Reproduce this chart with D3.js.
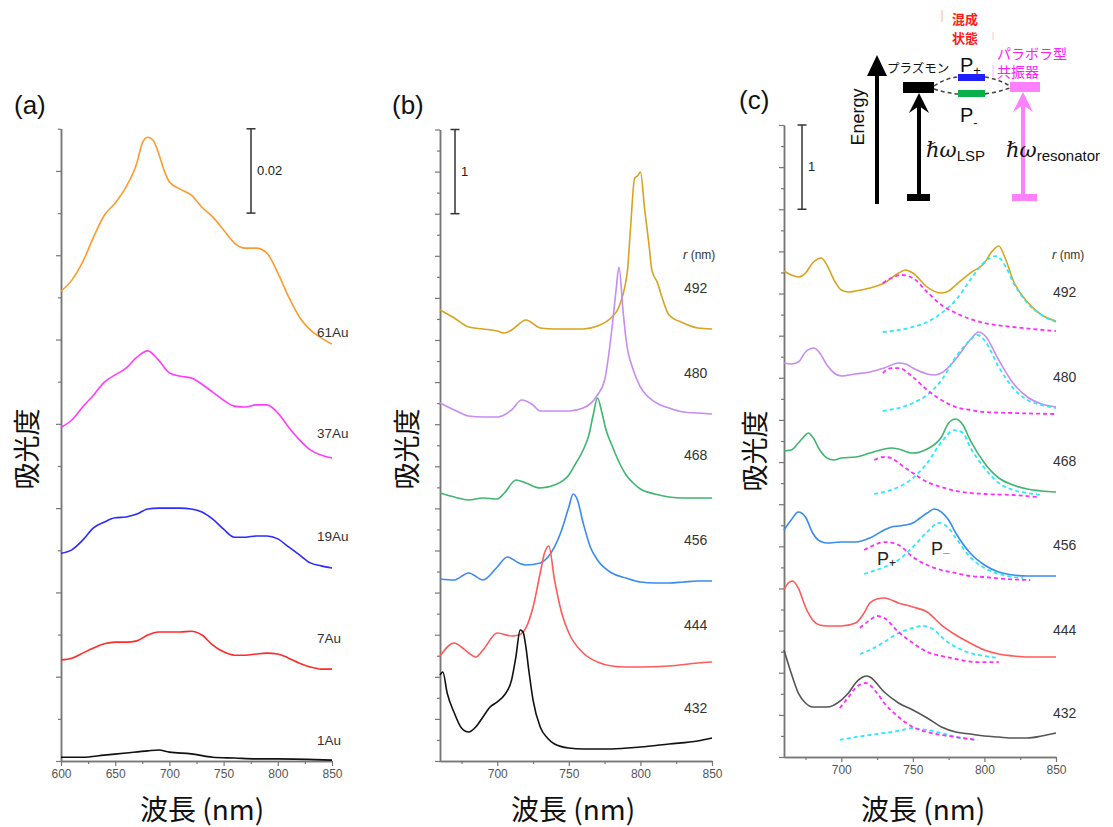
<!DOCTYPE html>
<html>
<head>
<meta charset="utf-8">
<script src="https://cdn.jsdelivr.net/npm/d3@7"></script>
<style>
  body { margin: 0; background: #fff; }
  svg { display: block; font-family: "Liberation Sans", Arial, sans-serif; }
  .cjk { font-family: "Noto Sans CJK JP", "Noto Sans", sans-serif; }
</style>
</head>
<body>
<script>
// ---- panel (a): absorbance spectra, offset-stacked (units: absorbance)
var a61Au = [[600,0.1115],[610,0.1141],[620,0.1184],[630,0.1243],[640,0.1295],[650,0.1324],[660,0.1362],[670,0.1419],[675,0.1466],[680,0.1480],[685,0.1473],[690,0.1442],[695,0.1402],[700,0.1374],[710,0.1357],[720,0.1343],[730,0.1314],[740,0.1291],[750,0.1260],[760,0.1229],[770,0.1217],[780,0.1217],[790,0.1205],[800,0.1158],[810,0.1101],[820,0.1053],[830,0.1023],[840,0.1004],[850,0.0989]];
var a37Au = [[600,0.0792],[610,0.0809],[620,0.0840],[630,0.0868],[640,0.0899],[650,0.0916],[660,0.0932],[670,0.0958],[680,0.0973],[690,0.0951],[700,0.0921],[710,0.0913],[720,0.0909],[730,0.0894],[740,0.0875],[750,0.0856],[760,0.0842],[770,0.0840],[780,0.0845],[790,0.0845],[800,0.0826],[810,0.0792],[820,0.0762],[830,0.0738],[840,0.0726],[850,0.0719]];
var a19Au = [[600,0.0493],[610,0.0501],[620,0.0524],[630,0.0553],[640,0.0567],[650,0.0577],[660,0.0579],[670,0.0586],[680,0.0598],[690,0.0600],[700,0.0600],[710,0.0600],[720,0.0598],[730,0.0591],[740,0.0574],[750,0.0550],[760,0.0531],[770,0.0531],[780,0.0534],[790,0.0534],[800,0.0527],[810,0.0508],[820,0.0489],[830,0.0470],[840,0.0463],[850,0.0458]];
var a7Au = [[600,0.0240],[610,0.0244],[620,0.0256],[630,0.0268],[640,0.0278],[650,0.0282],[660,0.0282],[670,0.0285],[680,0.0299],[690,0.0306],[700,0.0306],[710,0.0306],[720,0.0308],[730,0.0299],[740,0.0275],[750,0.0259],[760,0.0251],[770,0.0251],[780,0.0254],[790,0.0256],[800,0.0254],[810,0.0244],[820,0.0232],[830,0.0223],[840,0.0218],[850,0.0218]];
var a1Au = [[600,0.0009],[620,0.0009],[640,0.0014],[660,0.0019],[680,0.0024],[690,0.0026],[700,0.0021],[720,0.0017],[740,0.0009],[760,0.0007],[780,0.0005],[800,0.0005],[850,0.0002]];
var labelsA = ['61Au', '37Au', '19Au', '7Au', '1Au'];
var colorsA = ['#ff9a2e', '#ff3cff', '#2b2bff', '#ff2b2b', '#111111'];

// ---- panel (b): simulated spectra, offset-stacked (scale bar = 1)
var b492 = [[660,5.356],[670,5.261],[680,5.154],[690,5.131],[700,5.107],[705,5.083],[710,5.119],[720,5.238],[730,5.143],[740,5.131],[750,5.131],[760,5.131],[770,5.166],[780,5.273],[785,5.392],[790,5.713],[791,5.830],[793,6.306],[796,6.924],[798,6.948],[800,6.995],[803,6.544],[806,6.130],[808,5.830],[812,5.677],[815,5.511],[820,5.297],[830,5.202],[840,5.143],[850,5.131]];
var b480 = [[660,4.252],[670,4.169],[680,4.097],[690,4.086],[700,4.086],[710,4.169],[717,4.287],[725,4.228],[730,4.157],[740,4.157],[750,4.157],[760,4.192],[770,4.347],[775,4.525],[780,5.119],[783,5.594],[785,5.867],[788,5.321],[790,5.000],[795,4.644],[800,4.442],[810,4.264],[820,4.192],[830,4.145],[840,4.133],[850,4.121]];
var b468 = [[660,3.183],[670,3.135],[680,3.100],[690,3.124],[700,3.112],[705,3.183],[713,3.337],[720,3.302],[730,3.242],[740,3.278],[750,3.397],[755,3.539],[760,3.694],[764,3.872],[767,4.109],[770,4.311],[773,4.145],[776,3.931],[780,3.753],[785,3.551],[790,3.397],[795,3.302],[800,3.230],[810,3.171],[820,3.135],[830,3.124],[840,3.124],[850,3.124]];
var b456 = [[660,2.162],[670,2.150],[680,2.233],[690,2.150],[700,2.304],[707,2.423],[715,2.352],[720,2.328],[730,2.352],[740,2.542],[745,2.743],[750,3.017],[753,3.171],[756,3.100],[760,2.827],[765,2.542],[770,2.387],[780,2.233],[790,2.173],[800,2.126],[810,2.114],[820,2.114],[830,2.126],[840,2.138],[850,2.138]];
var b444 = [[660,1.247],[670,1.401],[675,1.354],[680,1.283],[685,1.235],[690,1.318],[700,1.520],[710,1.485],[715,1.496],[720,1.580],[725,1.829],[730,2.233],[733,2.470],[736,2.553],[740,2.150],[745,1.758],[750,1.520],[760,1.283],[770,1.176],[780,1.128],[790,1.116],[800,1.116],[820,1.128],[840,1.164],[850,1.176]];
var b432 = [[660,1.021],[662,1.057],[665,0.808],[670,0.570],[675,0.392],[680,0.344],[685,0.404],[690,0.523],[695,0.641],[700,0.701],[705,0.784],[710,0.962],[713,1.235],[716,1.556],[718,1.532],[720,1.354],[722,1.081],[725,0.724],[730,0.404],[735,0.273],[740,0.202],[750,0.154],[760,0.143],[780,0.143],[800,0.166],[820,0.202],[840,0.238],[850,0.273]];
var radii = ['492', '480', '468', '456', '444', '432'];
var colorsB = ['#d8a31e', '#c58cf2', '#3fb56f', '#3a8af0', '#ff5a5a', '#111111'];

// ---- panel (c): measured spectra + two-peak fits (P+ magenta, P- cyan)
var c492 = [[660,5.767],[665,5.720],[670,5.696],[675,5.743],[680,5.862],[686,5.921],[690,5.838],[695,5.660],[700,5.542],[705,5.518],[710,5.530],[720,5.565],[730,5.625],[740,5.743],[745,5.779],[750,5.743],[760,5.577],[770,5.506],[775,5.530],[780,5.601],[790,5.743],[800,5.862],[805,5.993],[810,6.064],[815,5.898],[820,5.660],[830,5.399],[840,5.245],[850,5.174]];
var c480 = [[660,4.675],[665,4.664],[670,4.687],[675,4.806],[681,4.853],[685,4.794],[690,4.652],[695,4.557],[700,4.521],[710,4.545],[720,4.569],[730,4.616],[740,4.675],[745,4.664],[750,4.616],[760,4.545],[765,4.533],[770,4.557],[780,4.723],[790,4.948],[796,5.043],[800,5.008],[810,4.711],[820,4.438],[830,4.272],[840,4.189],[850,4.153]];
var c468 = [[660,3.631],[665,3.643],[670,3.726],[675,3.821],[677,3.845],[680,3.797],[685,3.643],[690,3.548],[695,3.524],[700,3.548],[710,3.560],[720,3.607],[730,3.655],[735,3.667],[740,3.655],[750,3.607],[760,3.655],[770,3.797],[775,3.963],[780,4.011],[785,3.940],[790,3.762],[800,3.489],[810,3.311],[820,3.228],[830,3.180],[840,3.157],[850,3.145]];
var c456 = [[660,2.694],[665,2.812],[670,2.907],[675,2.848],[680,2.658],[685,2.563],[690,2.539],[700,2.551],[710,2.551],[720,2.599],[730,2.694],[735,2.729],[740,2.741],[745,2.753],[750,2.777],[755,2.836],[760,2.895],[765,2.943],[770,2.907],[775,2.812],[780,2.658],[790,2.421],[800,2.278],[810,2.195],[820,2.160],[830,2.148],[850,2.148]];
var c444 = [[660,1.982],[663,2.065],[666,2.089],[670,2.005],[675,1.780],[680,1.626],[685,1.566],[690,1.555],[700,1.555],[710,1.590],[715,1.685],[720,1.827],[725,1.875],[730,1.887],[740,1.827],[750,1.780],[760,1.721],[770,1.566],[780,1.448],[790,1.353],[800,1.270],[810,1.222],[820,1.199],[830,1.187],[850,1.187]];
var c432 = [[660,1.270],[665,0.997],[670,0.759],[675,0.641],[680,0.593],[690,0.593],[700,0.676],[705,0.759],[710,0.878],[715,0.949],[718,0.961],[720,0.949],[730,0.771],[740,0.641],[750,0.558],[760,0.463],[770,0.356],[780,0.297],[790,0.273],[800,0.249],[810,0.237],[820,0.225],[830,0.225],[840,0.249],[850,0.285]];
var fitPlus492 = [[729,5.625],[735,5.684],[742,5.720],[750,5.684],[760,5.518],[770,5.364],[780,5.269],[790,5.198],[800,5.150],[820,5.103],[850,5.055]];
var fitMinus492 = [[729,5.043],[740,5.067],[750,5.103],[760,5.162],[770,5.269],[780,5.423],[790,5.660],[800,5.874],[808,5.945],[815,5.815],[820,5.637],[830,5.387],[840,5.245],[850,5.162]];
var fitPlus480 = [[729,4.557],[735,4.616],[740,4.616],[750,4.509],[760,4.355],[770,4.236],[780,4.153],[790,4.118],[800,4.094],[820,4.082],[850,4.070]];
var fitMinus480 = [[729,4.106],[740,4.141],[750,4.201],[760,4.296],[770,4.474],[780,4.747],[790,4.948],[795,5.008],[800,4.948],[810,4.628],[820,4.379],[830,4.236],[840,4.177],[850,4.141]];
var fitPlus468 = [[723,3.524],[730,3.560],[735,3.548],[740,3.489],[750,3.370],[760,3.263],[770,3.204],[780,3.157],[800,3.121],[820,3.109],[837,3.085]];
var fitMinus468 = [[723,3.121],[730,3.145],[740,3.204],[750,3.311],[760,3.489],[770,3.738],[779,3.880],[785,3.845],[790,3.679],[800,3.429],[810,3.251],[820,3.168],[830,3.133],[840,3.109]];
var fitPlus456 = [[716,2.456],[720,2.492],[731,2.551],[740,2.516],[750,2.373],[760,2.278],[770,2.219],[780,2.183],[790,2.148],[800,2.136],[815,2.112],[832,2.100]];
var fitMinus456 = [[716,2.172],[730,2.255],[740,2.338],[750,2.492],[760,2.670],[768,2.777],[775,2.717],[780,2.599],[790,2.373],[800,2.243],[810,2.172],[820,2.136],[827,2.124]];
var fitPlus444 = [[713,1.531],[720,1.626],[725,1.673],[730,1.649],[740,1.483],[750,1.353],[760,1.246],[770,1.199],[780,1.163],[795,1.127],[810,1.127]];
var fitMinus444 = [[713,1.222],[720,1.270],[730,1.365],[740,1.471],[750,1.531],[757,1.555],[765,1.507],[770,1.424],[780,1.305],[790,1.234],[800,1.199],[810,1.175]];
var fitPlus432 = [[699,0.581],[705,0.712],[710,0.819],[717,0.878],[725,0.759],[730,0.641],[740,0.475],[750,0.356],[760,0.297],[770,0.261],[780,0.237],[795,0.202]];
var fitMinus432 = [[699,0.202],[710,0.237],[720,0.261],[730,0.285],[740,0.309],[750,0.344],[755,0.332],[760,0.320],[770,0.285],[780,0.237],[795,0.202]];
var colorsC = ['#d8a31e', '#c58cf2', '#3fb56f', '#3a8af0', '#ff5a5a', '#555555'];
var fitPlusColor = '#ff2dff', fitMinusColor = '#2de8ff';

var W = 1113, H = 827;
var svg = d3.select('body').append('svg').attr('width', W).attr('height', H);

function addAxes(g, x, y, xMajor, xMinor, yMajor, yMinor, xFmt) {
  var y0 = y.range()[0], x0 = x.range()[0];
  var bx = g.append('g').attr('transform', 'translate(0,' + y0 + ')');
  bx.append('g').call(d3.axisBottom(x).tickValues(xMinor).tickSize(3).tickSizeOuter(0).tickFormat(''));
  bx.append('g').call(d3.axisBottom(x).tickValues(xMajor).tickSize(5).tickSizeOuter(0).tickPadding(3).tickFormat(xFmt));
  var ly = g.append('g').attr('transform', 'translate(' + x0 + ',0)');
  ly.append('g').call(d3.axisLeft(y).tickValues(yMinor).tickSize(3).tickSizeOuter(0).tickFormat(''));
  ly.append('g').call(d3.axisLeft(y).tickValues(yMajor).tickSize(5).tickSizeOuter(0).tickFormat(''));
  g.selectAll('.domain').attr('stroke', '#777').attr('stroke-width', 1.5);
  g.selectAll('.tick line').attr('stroke', '#777').attr('stroke-width', 1.2);
  g.selectAll('.tick text').attr('fill', '#555').style('font-size', '12px')
    .style('font-family', '"Liberation Sans", Arial, sans-serif');
}

function scaleBar(g, x, y, top, bottom, label) {
  var xb = x, y1 = y(top), y2 = y(bottom);
  g.append('line').attr('x1', xb).attr('x2', xb).attr('y1', y1).attr('y2', y2).attr('stroke', '#333').attr('stroke-width', 1.5);
  [y1, y2].forEach(function(v) {
    g.append('line').attr('x1', xb - 4.5).attr('x2', xb + 4.5).attr('y1', v).attr('y2', v).attr('stroke', '#333').attr('stroke-width', 1.5);
  });
  g.append('text').attr('x', xb + 6).attr('y', (y1 + y2) / 2 + 4).attr('font-size', 13).attr('fill', '#222').text(label);
}

function lineGen(x, y) {
  return d3.line().x(function(d) { return x(d[0]); }).y(function(d) { return y(d[1]); }).curve(d3.curveMonotoneX);
}

function axisTitles(cx, cyLabel, xLabelX, panel, px, py) {
  svg.append('text').attr('x', px).attr('y', py).attr('font-size', 26).attr('fill', '#111').text(panel);
  svg.append('text').attr('class', 'cjk').attr('transform', 'translate(' + cx + ',' + cyLabel + ') rotate(-90)')
    .attr('text-anchor', 'middle').attr('dy', '0.36em').attr('font-size', 27).attr('fill', '#111').text('吸光度');
  svg.append('text').attr('class', 'cjk').attr('x', xLabelX).attr('y', 820).attr('text-anchor', 'middle')
    .attr('font-size', 28).attr('fill', '#111').text('波長 (nm)');
}

// ================= panel (a)
(function() {
  var g = svg.append('g');
  var x = d3.scaleLinear().domain([600, 850]).range([61, 332]);
  var y = d3.scaleLinear().domain([0, 0.15]).range([761, 128.8]);
  addAxes(g, x, y, d3.range(600, 851, 50), d3.range(625, 851, 50),
    d3.range(0, 0.1501, 0.02), d3.range(0.01, 0.1501, 0.02), d3.format('d'));
  var line = lineGen(x, y);
  [a61Au, a37Au, a19Au, a7Au, a1Au].forEach(function(s, i) {
    g.append('path').datum(s).attr('d', line).attr('fill', 'none').attr('stroke', colorsA[i]).attr('stroke-width', 1.6);
  });
  var ly = [332, 433, 536, 638, 740];
  labelsA.forEach(function(t, i) {
    g.append('text').attr('x', 317).attr('y', ly[i] + 5).attr('font-size', 13.5).attr('fill', '#333').text(t);
  });
  scaleBar(g, 251, y, 0.15, 0.13, '0.02');
  axisTitles(27, 449, 202, '(a)', 14, 114);
})();

// ================= panel (b)
(function() {
  var g = svg.append('g');
  var x = d3.scaleLinear().domain([660, 850]).range([440, 712]);
  var y = d3.scaleLinear().domain([0, 7.5]).range([761, 129.5]);
  addAxes(g, x, y, d3.range(700, 851, 50), d3.range(675, 851, 50),
    d3.range(0, 7.51, 0.5), d3.range(0.25, 7.51, 0.5), d3.format('d'));
  var line = lineGen(x, y);
  [b492, b480, b468, b456, b444, b432].forEach(function(s, i) {
    g.append('path').datum(s).attr('d', line).attr('fill', 'none').attr('stroke', colorsB[i]).attr('stroke-width', 1.6);
  });
  var rt = g.append('text').attr('x', 683).attr('y', 259).attr('font-size', 13).attr('fill', '#333');
  rt.append('tspan').attr('font-style', 'italic').text('r');
  rt.append('tspan').attr('font-size', 12).text(' (nm)');
  var ly = [288, 373, 455, 540, 625, 708];
  radii.forEach(function(t, i) {
    g.append('text').attr('x', 684).attr('y', ly[i] + 5).attr('font-size', 14).attr('fill', '#333').text(t);
  });
  scaleBar(g, 455, y, 7.5, 6.5, '1');
  axisTitles(407, 449, 573, '(b)', 392, 114);
})();

// ================= panel (c)
(function() {
  var g = svg.append('g');
  var x = d3.scaleLinear().domain([660, 850]).range([784, 1056]);
  var y = d3.scaleLinear().domain([0, 7.5]).range([757, 125]);
  addAxes(g, x, y, d3.range(700, 851, 50), d3.range(675, 851, 50),
    d3.range(0, 7.51, 0.5), d3.range(0.25, 7.51, 0.5), d3.format('d'));
  var line = lineGen(x, y);
  var plus = [fitPlus492, fitPlus480, fitPlus468, fitPlus456, fitPlus444, fitPlus432];
  var minus = [fitMinus492, fitMinus480, fitMinus468, fitMinus456, fitMinus444, fitMinus432];
  [c492, c480, c468, c456, c444, c432].forEach(function(s, i) {
    g.append('path').datum(s).attr('d', line).attr('fill', 'none').attr('stroke', colorsC[i]).attr('stroke-width', 1.6);
  });
  minus.forEach(function(s) {
    g.append('path').datum(s).attr('d', line).attr('fill', 'none').attr('stroke', fitMinusColor)
      .attr('stroke-width', 1.8).attr('stroke-dasharray', '4,3');
  });
  plus.forEach(function(s) {
    g.append('path').datum(s).attr('d', line).attr('fill', 'none').attr('stroke', fitPlusColor)
      .attr('stroke-width', 1.8).attr('stroke-dasharray', '4,3');
  });
  var rt = g.append('text').attr('x', 1052).attr('y', 259).attr('font-size', 13).attr('fill', '#333');
  rt.append('tspan').attr('font-style', 'italic').text('r');
  rt.append('tspan').attr('font-size', 12).text(' (nm)');
  var ly = [292, 377, 461, 545, 630, 713];
  radii.forEach(function(t, i) {
    g.append('text').attr('x', 1053).attr('y', ly[i] + 5).attr('font-size', 14).attr('fill', '#333').text(t);
  });
  // P+ / P- annotations
  var pp = g.append('text').attr('x', 877).attr('y', 565).attr('font-size', 18).attr('fill', '#222');
  pp.append('tspan').text('P');
  pp.append('tspan').attr('font-size', 12).attr('dy', 2).text('+');
  var pm = g.append('text').attr('x', 931).attr('y', 555).attr('font-size', 18).attr('fill', '#222');
  pm.append('tspan').text('P');
  pm.append('tspan').attr('font-size', 12).attr('dy', 2).attr('fill', '#999').text('\u2013');
  scaleBar(g, 802, y, 7.5, 6.5, '1');
  axisTitles(755, 451, 923, '(c)', 739, 109);

  // ---- energy level inset
  var d = svg.append('g');
  d.append('line').attr('x1', 877).attr('x2', 877).attr('y1', 204).attr('y2', 72).attr('stroke', '#000').attr('stroke-width', 4);
  d.append('path').attr('d', 'M877,55 L887,76 L867,76 Z').attr('fill', '#000');
  d.append('text').attr('transform', 'translate(858,117) rotate(-90)').attr('text-anchor', 'middle')
    .attr('dy', '0.36em').attr('font-size', 18).attr('fill', '#111').text('Energy');
  d.append('text').attr('class', 'cjk').attr('x', 887).attr('y', 73).attr('font-size', 12.5).attr('fill', '#111').text('プラズモン');
  // plasmon level and arrow
  d.append('rect').attr('x', 903).attr('y', 82).attr('width', 31).attr('height', 11).attr('fill', '#000');
  d.append('line').attr('x1', 919).attr('x2', 919).attr('y1', 198).attr('y2', 100).attr('stroke', '#000').attr('stroke-width', 4);
  d.append('path').attr('d', 'M919,93 L929,113 L919,106 L909,113 Z').attr('fill', '#000');
  d.append('rect').attr('x', 907).attr('y', 194).attr('width', 23).attr('height', 7).attr('fill', '#000');
  // hybrid levels
  d.append('rect').attr('x', 958).attr('y', 74).attr('width', 27).attr('height', 7).attr('fill', '#1f1fff');
  d.append('rect').attr('x', 958).attr('y', 90).attr('width', 27).attr('height', 7).attr('fill', '#0bb04a');
  ['M934,86 Q946,78 958,77', 'M934,89 Q946,93 958,94', 'M985,77 Q998,79 1010,86', 'M985,94 Q998,92 1010,88'].forEach(function(p) {
    d.append('path').attr('d', p).attr('fill', 'none').attr('stroke', '#444').attr('stroke-width', 1.5).attr('stroke-dasharray', '4,3');
  });
  var p1 = d.append('text').attr('x', 960).attr('y', 72).attr('font-size', 20).attr('fill', '#111');
  p1.append('tspan').text('P');
  p1.append('tspan').attr('font-size', 13).attr('dy', 3).text('+');
  var p2 = d.append('text').attr('x', 960).attr('y', 122).attr('font-size', 20).attr('fill', '#111');
  p2.append('tspan').text('P');
  p2.append('tspan').attr('font-size', 13).attr('dy', 5).text('-');
  // resonator level and arrow
  var pink = '#ff80ff';
  d.append('rect').attr('x', 1010).attr('y', 82).attr('width', 30).attr('height', 10).attr('fill', pink);
  d.append('line').attr('x1', 1023).attr('x2', 1023).attr('y1', 198).attr('y2', 100).attr('stroke', pink).attr('stroke-width', 4);
  d.append('path').attr('d', 'M1023,92 L1033,112 L1023,105 L1013,112 Z').attr('fill', pink);
  d.append('rect').attr('x', 1012).attr('y', 194).attr('width', 25).attr('height', 7).attr('fill', pink);
  // hbar omega labels
  var h1 = d.append('text').attr('x', 926).attr('y', 157).attr('fill', '#111');
  h1.append('tspan').attr('font-family', '"DejaVu Serif", serif').attr('font-style', 'italic').attr('font-size', 21).text('\u210F\u03C9');
  h1.append('tspan').attr('font-size', 15).attr('dy', 4).text('LSP');
  var h2 = d.append('text').attr('x', 1006).attr('y', 157).attr('fill', '#111');
  h2.append('tspan').attr('font-family', '"DejaVu Serif", serif').attr('font-style', 'italic').attr('font-size', 21).text('\u210F\u03C9');
  h2.append('tspan').attr('font-size', 15).attr('dy', 4).text('resonator');
  // japanese annotations
  d.append('text').attr('class', 'cjk').attr('x', 952).attr('y', 24).attr('font-size', 13).attr('font-weight', 'bold').attr('fill', '#ff1a1a').text('混成');
  d.append('text').attr('class', 'cjk').attr('x', 952).attr('y', 43).attr('font-size', 13).attr('font-weight', 'bold').attr('fill', '#ff1a1a').text('状態');
  d.append('text').attr('class', 'cjk').attr('x', 997).attr('y', 59).attr('font-size', 14).attr('fill', '#ff1aff').text('パラボラ型');
  d.append('text').attr('class', 'cjk').attr('x', 997).attr('y', 77).attr('font-size', 14).attr('fill', '#ff1aff').text('共振器');
  d.append('line').attr('x1', 942).attr('x2', 942).attr('y1', 10).attr('y2', 22).attr('stroke', '#ffb0b0').attr('stroke-width', 1);
  d.append('line').attr('x1', 993).attr('x2', 993).attr('y1', 32).attr('y2', 40).attr('stroke', '#ffc8c8').attr('stroke-width', 1);
  d.append('line').attr('x1', 993).attr('x2', 993).attr('y1', 65).attr('y2', 77).attr('stroke', '#ffb8ff').attr('stroke-width', 1);
})();
</script>
</body>
</html>
